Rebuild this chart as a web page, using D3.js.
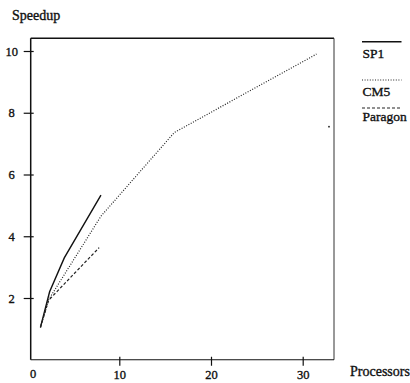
<!DOCTYPE html>
<html><head><meta charset="utf-8">
<script src="https://cdn.jsdelivr.net/npm/d3@7"></script>
<style>body{margin:0;background:#fff}text{font-family:"Liberation Serif","Times New Roman",serif;fill:#111;stroke:#111;stroke-width:0.35px}</style>
</head><body><svg id="c" width="410" height="383"></svg>
<script>
const seriesNames = ["SP1", "CM5", "Paragon"];
const sp1 = [[1.4,1.05],[2.4,2.2],[4,3.3],[8,5.33]];
const cm5 = [[1.4,1.05],[2.3,1.95],[8,4.65],[16,7.36],[31.5,9.9]];
const paragon = [[1.4,1.05],[2.3,1.93],[7.8,3.63]];
const xTicks = [10,20,30];
const yTicks = [2,4,6,8,10];
const xLabel = "Processors", yLabel = "Speedup";

const svg = d3.select("#c");
const x = d3.scaleLinear().domain([10,30]).range([119.3,302.7]);
const y = d3.scaleLinear().domain([2,10]).range([298,51]);
const L = 30.7, R = 334, T = 38.3, B = y(0);

// frame
svg.append("line").attr("x1",L).attr("x2",R).attr("y1",T).attr("y2",T).attr("stroke","#111").attr("stroke-width",1.6);
svg.append("line").attr("x1",R).attr("x2",R).attr("y1",T).attr("y2",B).attr("stroke","#333").attr("stroke-width",1);

// axes
const gx = svg.append("g").attr("transform",`translate(0,${B})`)
  .call(d3.axisBottom(x).tickValues(xTicks).tickSize(6).tickPadding(4));
gx.select(".domain").remove();
gx.selectAll(".tick line").attr("y1",-3).attr("stroke","#111").attr("stroke-width",1.2);
gx.selectAll(".tick text").attr("font-size",12.5).attr("fill","#111").attr("font-family","Liberation Serif");
svg.append("line").attr("x1",L).attr("x2",R).attr("y1",B).attr("y2",B).attr("stroke","#111").attr("stroke-width",1.2);
svg.append("text").attr("x",L+2.5).attr("y",B+18).attr("text-anchor","middle").attr("font-size",12.5).text("0");

const gy = svg.append("g").attr("transform",`translate(${L},0)`)
  .call(d3.axisLeft(y).tickValues(yTicks).tickSize(7).tickPadding(0));
gy.select(".domain").remove();
gy.selectAll(".tick line").attr("x1",3).attr("stroke","#111").attr("stroke-width",1.2);
gy.selectAll(".tick text").attr("x",-19).attr("text-anchor","middle").attr("font-size",12.5).attr("fill","#111").attr("font-family","Liberation Serif");
svg.append("line").attr("x1",L).attr("x2",L).attr("y1",T).attr("y2",B).attr("stroke","#111").attr("stroke-width",1.5);

svg.append("text").attr("x",12).attr("y",20).attr("font-size",14).text(yLabel);
svg.append("text").attr("x",350).attr("y",376).attr("font-size",14).text(xLabel);

const styles = [
  {data: sp1, dash: null, w: 1.4, c:"#111"},
  {data: cm5, dash: "1,1.6", w: 1.2, c:"#222"},
  {data: paragon, dash: "3,2", w: 1.2, c:"#222"}
];
const line = d3.line().x(d=>x(d[0])).y(d=>y(d[1]));
styles.forEach(s=>{
  svg.append("path").attr("d",line(s.data)).attr("fill","none").attr("stroke",s.c)
    .attr("stroke-width",s.w).attr("stroke-dasharray",s.dash);
});

// legend
const legY = [41.7, 80, 108];
const legTextY = [58.3, 95.7, 120.5];
seriesNames.forEach((n,i)=>{
  const s = styles[i];
  svg.append("line").attr("x1",362).attr("x2",401.5).attr("y1",legY[i]).attr("y2",legY[i])
    .attr("stroke",s.c).attr("stroke-width",s.w).attr("stroke-dasharray",s.dash);
  svg.append("text").attr("x",362.5).attr("y",legTextY[i]).attr("font-size",13.5).text(n);
});
// small speck
svg.append("circle").attr("cx",329).attr("cy",126.7).attr("r",0.9).attr("fill","#222");
</script></body></html>
